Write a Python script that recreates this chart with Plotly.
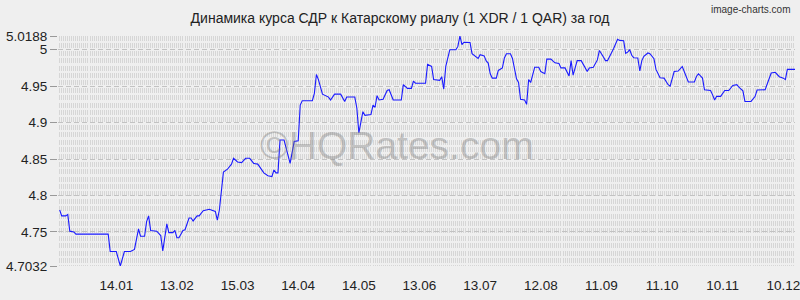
import plotly.graph_objects as go

dates = [
    "2016-12-17", "2016-12-18", "2016-12-20", "2016-12-21", "2016-12-22", "2016-12-24", "2016-12-25",
    "2017-01-10", "2017-01-11", "2017-01-14", "2017-01-16", "2017-01-18", "2017-01-21", "2017-01-23",
    "2017-01-25", "2017-01-26", "2017-01-28", "2017-01-29", "2017-01-30", "2017-01-31",
    "2017-02-03", "2017-02-05", "2017-02-06", "2017-02-08", "2017-02-09", "2017-02-11", "2017-02-12",
    "2017-02-13", "2017-02-14", "2017-02-16", "2017-02-17", "2017-02-19", "2017-02-20", "2017-02-21",
    "2017-02-23", "2017-02-24", "2017-02-26", "2017-02-27",
    "2017-03-01", "2017-03-04", "2017-03-05", "2017-03-06", "2017-03-07", "2017-03-08", "2017-03-10",
    "2017-03-12", "2017-03-13", "2017-03-15", "2017-03-17", "2017-03-19", "2017-03-21", "2017-03-23",
    "2017-03-25", "2017-03-26", "2017-03-28", "2017-03-30",
    "2017-04-01", "2017-04-02", "2017-04-03", "2017-04-04", "2017-04-05", "2017-04-07", "2017-04-10",
    "2017-04-12", "2017-04-14", "2017-04-15", "2017-04-16", "2017-04-21", "2017-04-22", "2017-04-23",
    "2017-04-24", "2017-04-26", "2017-04-28", "2017-04-29", "2017-04-30",
    "2017-05-02", "2017-05-05", "2017-05-06", "2017-05-07", "2017-05-08", "2017-05-12", "2017-05-13",
    "2017-05-14", "2017-05-16", "2017-05-17", "2017-05-20", "2017-05-21", "2017-05-22", "2017-05-23",
    "2017-05-24", "2017-05-26", "2017-05-28", "2017-05-29", "2017-05-31",
    "2017-06-04", "2017-06-05", "2017-06-07", "2017-06-09", "2017-06-10", "2017-06-11", "2017-06-16",
    "2017-06-17", "2017-06-19", "2017-06-20", "2017-06-23", "2017-06-24", "2017-06-25", "2017-06-26",
    "2017-06-28",
    "2017-07-01", "2017-07-02", "2017-07-03", "2017-07-04", "2017-07-05", "2017-07-08", "2017-07-09",
    "2017-07-11", "2017-07-12", "2017-07-13", "2017-07-15", "2017-07-16", "2017-07-17", "2017-07-18",
    "2017-07-19", "2017-07-21", "2017-07-22", "2017-07-24", "2017-07-25", "2017-07-26", "2017-07-28",
    "2017-07-29", "2017-07-31",
    "2017-08-01", "2017-08-02", "2017-08-04", "2017-08-05", "2017-08-06", "2017-08-07", "2017-08-09",
    "2017-08-11", "2017-08-12", "2017-08-14", "2017-08-15", "2017-08-17", "2017-08-19", "2017-08-21",
    "2017-08-22", "2017-08-24", "2017-08-26", "2017-08-27", "2017-08-28", "2017-08-30",
    "2017-09-01", "2017-09-02", "2017-09-04", "2017-09-05", "2017-09-07", "2017-09-09", "2017-09-10",
    "2017-09-12", "2017-09-13", "2017-09-14", "2017-09-16", "2017-09-17", "2017-09-19", "2017-09-20",
    "2017-09-22", "2017-09-23", "2017-09-24", "2017-09-25", "2017-09-26", "2017-09-27", "2017-09-29",
    "2017-09-30",
    "2017-10-01", "2017-10-02", "2017-10-04", "2017-10-05", "2017-10-07", "2017-10-08", "2017-10-10",
    "2017-10-12", "2017-10-14", "2017-10-15", "2017-10-17", "2017-10-19", "2017-10-21", "2017-10-22",
    "2017-10-24", "2017-10-27", "2017-10-28", "2017-10-29", "2017-10-31",
    "2017-11-01", "2017-11-04", "2017-11-05", "2017-11-06", "2017-11-07", "2017-11-09", "2017-11-11",
    "2017-11-13", "2017-11-15", "2017-11-17", "2017-11-18", "2017-11-20", "2017-11-21", "2017-11-24",
    "2017-11-26", "2017-11-27",
    "2017-12-01", "2017-12-02", "2017-12-03", "2017-12-04", "2017-12-06", "2017-12-08", "2017-12-10",
    "2017-12-11", "2017-12-12", "2017-12-14", "2017-12-16",
]

rates = [
    4.780, 4.772, 4.772, 4.774, 4.751, 4.750, 4.747,
    4.747, 4.723, 4.723, 4.7032, 4.723, 4.723, 4.726,
    4.754, 4.744, 4.744, 4.764, 4.772, 4.752,
    4.751, 4.745, 4.724, 4.761, 4.749, 4.749, 4.752,
    4.742, 4.742, 4.752, 4.753, 4.769, 4.769, 4.765,
    4.772, 4.772, 4.779, 4.780,
    4.781, 4.778, 4.766, 4.780, 4.805, 4.832, 4.836,
    4.843, 4.851, 4.846, 4.845, 4.851, 4.851, 4.844,
    4.843, 4.839, 4.831, 4.827,
    4.826, 4.835, 4.831, 4.831, 4.876, 4.876, 4.844,
    4.874, 4.875, 4.924, 4.930, 4.930, 4.940, 4.966,
    4.959, 4.939, 4.936, 4.935, 4.931,
    4.939, 4.939, 4.934, 4.929, 4.935, 4.935, 4.920,
    4.886, 4.915, 4.910, 4.911, 4.924, 4.921, 4.937,
    4.931, 4.932, 4.944, 4.945, 4.931,
    4.931, 4.952, 4.947, 4.947, 4.957, 4.954, 4.954,
    4.980, 4.977, 4.959, 4.958, 4.963, 4.946, 4.977,
    5.000,
    5.000, 5.0045, 5.0188, 5.0069, 5.0103, 5.0100, 4.9945,
    4.9908, 4.988, 4.9931, 4.9915, 4.9846, 4.9817, 4.967,
    4.961, 4.961, 4.9715, 4.975, 4.9886, 4.9945, 4.9945,
    4.988, 4.960,
    4.955, 4.932, 4.931, 4.925, 4.959, 4.955, 4.976,
    4.976, 4.970, 4.967, 4.987, 4.987, 4.982, 4.981,
    4.975, 4.975, 4.964, 4.985, 4.965, 4.985,
    4.985, 4.980, 4.970, 4.975, 4.976, 4.986, 4.999,
    4.990, 4.985, 4.985, 4.995, 5.0014, 5.0142, 5.0128,
    5.0124, 4.995, 4.9966, 5.000, 4.9924, 4.989, 4.9886,
    4.971,
    4.985, 4.991, 4.9955, 4.9945, 4.9876, 4.973, 4.9615,
    4.961, 4.952, 4.950, 4.970, 4.9707, 4.977, 4.970,
    4.9556, 4.9556, 4.9633, 4.967, 4.961,
    4.945, 4.944, 4.938, 4.931, 4.936, 4.936, 4.944,
    4.944, 4.951, 4.952, 4.9487, 4.9436, 4.929, 4.929,
    4.9357, 4.9446,
    4.945, 4.953, 4.959, 4.968, 4.969, 4.963, 4.961,
    4.959, 4.973, 4.973, 4.973,
]

x_tick_dates = ["2017-01-14", "2017-02-13", "2017-03-15", "2017-04-14", "2017-05-14", "2017-06-13",
                "2017-07-13", "2017-08-12", "2017-09-11", "2017-10-11", "2017-11-10", "2017-12-10"]
x_tick_labels = ["14.01", "13.02", "15.03", "14.04", "14.05", "13.06",
                 "13.07", "12.08", "11.09", "11.10", "10.11", "10.12"]
y_tick_values = [4.7032, 4.75, 4.8, 4.85, 4.9, 4.95, 5.0, 5.0188]
y_tick_labels = ["4.7032", "4.75", "4.8", "4.85", "4.9", "4.95", "5", "5.0188"]

title_text = "Динамика курса СДР к Катарскому риалу (1 XDR / 1 QAR) за год"
bg = "#efefef"
font_family = "Liberation Sans, Arial, sans-serif"

fig = go.Figure()
fig.add_trace(go.Scatter(
    x=dates, y=rates, mode="lines",
    line=dict(color="#1a1aff", width=1.1),
    hoverinfo="skip", showlegend=False,
))

fig.update_layout(
    width=800, height=300,
    paper_bgcolor=bg, plot_bgcolor=bg,
    margin=dict(l=58, r=0, t=36, b=34),
    font=dict(family=font_family, color="#222222", size=13.5),
    title=dict(text=title_text, x=0.5, xanchor="center", y=1 - 18 / 300, yanchor="middle",
               font=dict(family=font_family, size=14, color="#222222")),
    xaxis=dict(
        type="date",
        range=["2016-12-16 04:00", "2017-12-15 18:30"],
        tickmode="array", tickvals=x_tick_dates, ticktext=x_tick_labels,
        ticks="", showgrid=False, zeroline=False, showline=False,
        ticklabelstandoff=9, ticklabeloverflow="allow",
        tickfont=dict(size=13.5, color="#222222"),
        minor=dict(dtick=86400000, tick0="2016-12-16", showgrid=True,
                   gridcolor="#d6d6d6", gridwidth=1, griddash="5px,2.4px", ticks=""),
    ),
    yaxis=dict(
        range=[4.7032, 5.0188],
        tickmode="array", tickvals=y_tick_values, ticktext=y_tick_labels,
        ticks="outside", ticklen=7, tickcolor="#999999", tickwidth=1,
        showgrid=True, gridcolor="#c2c2c2", gridwidth=1, griddash="5px,3px",
        zeroline=False, showline=False,
        tickfont=dict(size=13.5, color="#222222"),
    ),
    annotations=[
        dict(text="©HQRates.com", xref="paper", yref="paper", x=0.46, y=0.525,
             xanchor="center", yanchor="middle", showarrow=False,
             font=dict(family=font_family, size=39, color="rgba(120,120,120,0.38)")),
        dict(text="image-charts.com", xref="paper", yref="paper", x=1.0, y=1.148,
             xanchor="right", yanchor="top", xshift=-3, showarrow=False,
             font=dict(family=font_family, size=10, color="#333333")),
    ],
)

fig.write_html("out.html")
